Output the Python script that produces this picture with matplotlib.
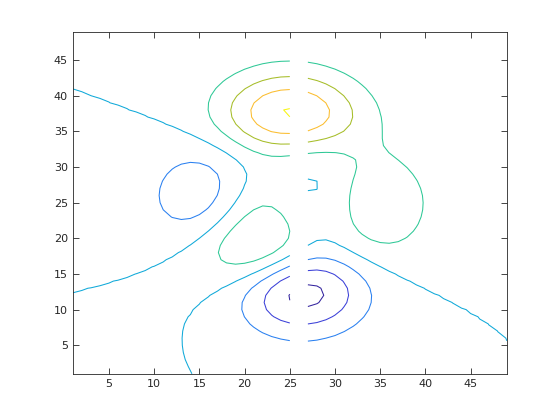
import numpy as np
import matplotlib
matplotlib.use('Agg')
import matplotlib.pyplot as plt

# grid: the "peaks" surface on a 49 x 49 grid, with column 26 blanked out
n_grid = 49
nan_col = 26
levels = [-6, -4, -2, 0, 2, 4, 6, 8]
ticks = [5, 10, 15, 20, 25, 30, 35, 40, 45]

# one colour per contour level (parula-like)
level_colors = ['#33239e', '#3b40d8', '#2a80f0', '#10a9d9',
                '#2ec896', '#a6bd28', '#fbbd2f', '#f7f50f']

u = np.linspace(-3, 3, n_grid)
x, y = np.meshgrid(u, u)
z = (3 * (1 - x)**2 * np.exp(-x**2 - (y + 1)**2)
     - 10 * (x / 5 - x**3 - y**5) * np.exp(-x**2 - y**2)
     - 1 / 3 * np.exp(-(x + 1)**2 - y**2))
z[:, nan_col - 1] = np.nan
zm = np.ma.masked_invalid(z)

cols = np.arange(1, n_grid + 1)

fig = plt.figure(figsize=(5.6, 4.2), dpi=100)
ax = fig.add_axes([0.13, 0.11, 0.775, 0.815])
ax.contour(cols, cols, zm, levels=levels, colors=level_colors, linewidths=0.75)

ax.set_xlim(1, n_grid)
ax.set_ylim(1, n_grid)
ax.set_xticks(ticks)
ax.set_yticks(ticks)
ax.tick_params(direction='in', top=True, right=True, labelsize=8,
               colors='#262626', length=4, width=0.6)
for s in ax.spines.values():
    s.set_color('#262626')
    s.set_linewidth(0.6)

fig.savefig('out.png', dpi=100)
